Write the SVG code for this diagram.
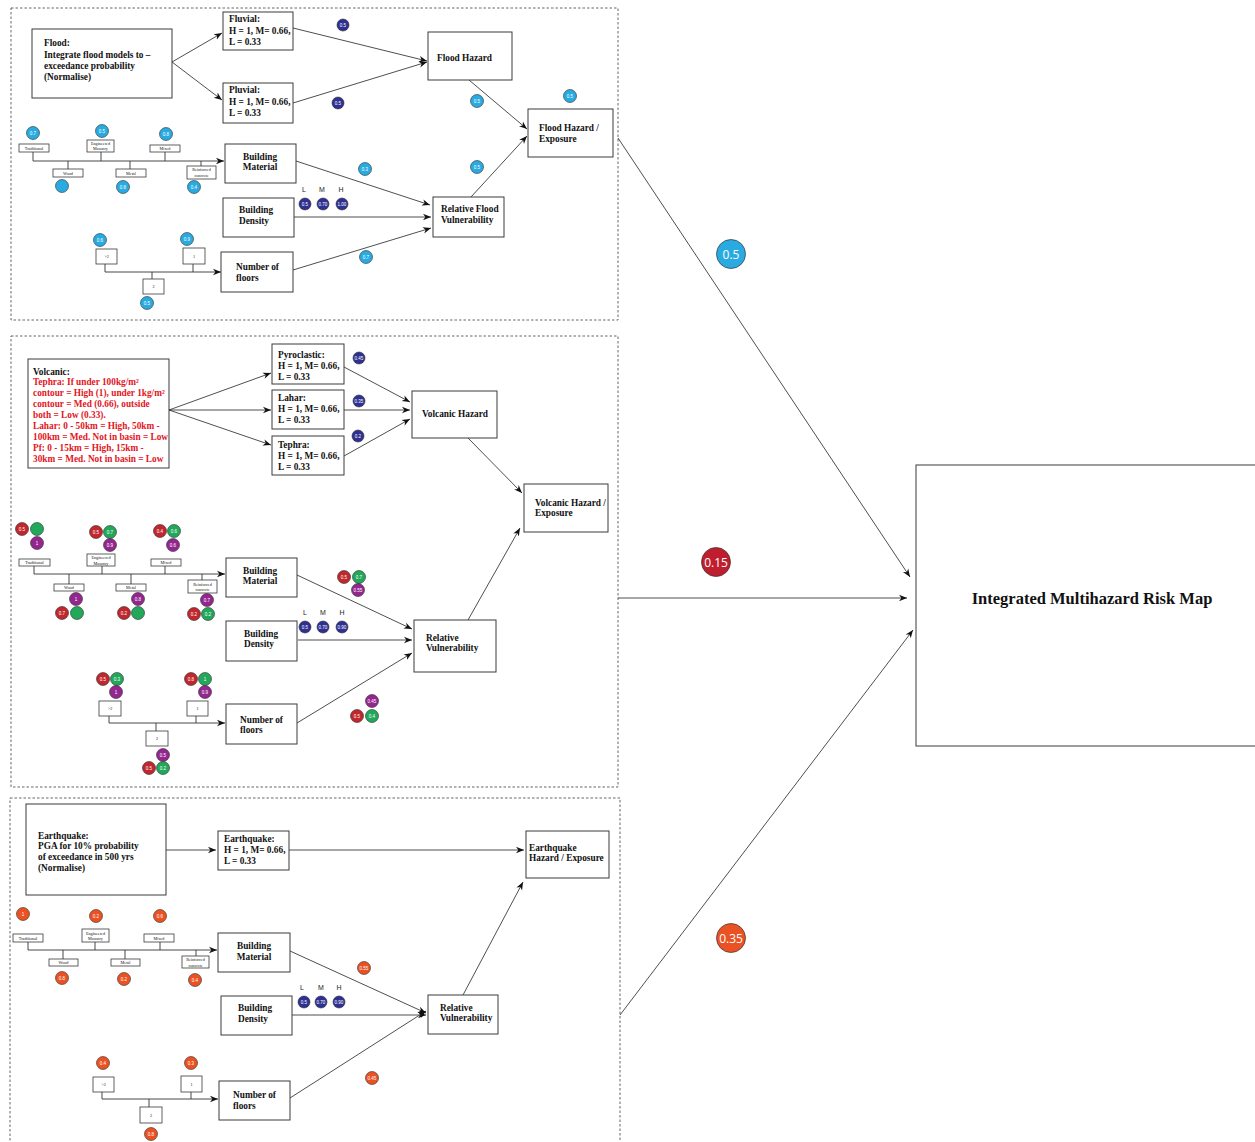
<svg xmlns="http://www.w3.org/2000/svg" width="1255" height="1142" viewBox="0 0 1255 1142">
<defs>
<marker id="ah" viewBox="0 0 10 10" refX="10" refY="5" markerWidth="8" markerHeight="8" markerUnits="userSpaceOnUse" orient="auto"><path d="M0,1 L10,5 L0,9 L3,5 z" fill="#111"/></marker>
</defs>
<style>
.panel{fill:none;stroke:#666;stroke-width:1;stroke-dasharray:2.5,2}
.box{fill:#fff;stroke:#3a3a3a;stroke-width:1}
.sbox{fill:#fff;stroke:#3a3a3a;stroke-width:0.8}
.t{font-family:"Liberation Serif",serif;font-size:9.3px;font-weight:bold;fill:#111}
.tr{fill:#e3151d}
.big{font-family:"Liberation Serif",serif;font-size:16.5px;font-weight:bold;fill:#111;text-anchor:middle}
.ts{font-family:"Liberation Serif",serif;font-size:4.2px;fill:#111;text-anchor:middle}
.ln{fill:none;stroke:#222;stroke-width:0.8;marker-end:url(#ah)}
.tree{fill:none;stroke:#333;stroke-width:0.9}
.d circle{stroke:#2b2b2b;stroke-width:0.6}
.d text{font-family:"Liberation Sans",sans-serif;font-size:4.5px;fill:#fff;text-anchor:middle}
.bd circle{stroke:#333;stroke-width:0.7}
.bd text{font-family:"Open Sans","Liberation Sans",sans-serif;font-size:12px;fill:#fff;text-anchor:middle}
.lb{fill:#29abe2}.db{fill:#2e3192}.rd{fill:#c1272d}.gr{fill:#22a85a}.pu{fill:#93278f}.or{fill:#ea5223}.dr{fill:#be1e2d}
.lmh{font-family:"Liberation Sans",sans-serif;font-size:7px;fill:#222;text-anchor:middle}
</style>
<rect width="1255" height="1142" fill="#fff"/>

<g id="panels">
<rect class="panel" x="11" y="8" width="607" height="312"/>
<rect class="panel" x="11" y="336" width="607" height="451"/>
<rect class="panel" x="10" y="798" width="610" height="360"/>
</g>

<g id="connectors">
<path class="ln" d="M172,62 L222,33"/>
<path class="ln" d="M172,62 L222,100"/>
<path class="ln" d="M293,28 L427,61"/>
<path class="ln" d="M293,103 L427,62"/>
<path class="ln" d="M469,80 L527,129"/>
<path class="ln" d="M471,197 L527,136"/>
<path class="ln" d="M296,161 L430,205"/>
<path class="ln" d="M294,217 L431,217"/>
<path class="ln" d="M293,270 L431,228"/>
<path class="tree" d="M33,152 V161 M101,152 V161 M165,152 V161 M68,161 V169 M130,161 V169 M201,161 V166"/>
<path class="tree" d="M33,161 H224" style="marker-end:url(#ah)"/>
<path class="tree" d="M193,264 V272 M152,272 V279"/>
<path class="tree" d="M105,264 V272 H221" style="marker-end:url(#ah)"/>

<path class="ln" d="M169,410 L271,373"/>
<path class="ln" d="M169,410 L271,410"/>
<path class="ln" d="M169,410 L271,445"/>
<path class="ln" d="M344,367 L410,402"/>
<path class="ln" d="M344,410 L410,410"/>
<path class="ln" d="M344,456 L410,419"/>
<path class="ln" d="M468,438 L522,493"/>
<path class="ln" d="M468,620 L520,528"/>
<path class="ln" d="M297,575 L412,629"/>
<path class="ln" d="M298,640 L412,640"/>
<path class="ln" d="M297,723 L412,653"/>
<path class="tree" d="M102,566 V574 M165,566 V574 M69,574 V584 M131,574 V584 M202,574 V580"/>
<path class="tree" d="M34,566 V574 H225" style="marker-end:url(#ah)"/>
<path class="tree" d="M196,716 V723 M156,723 V731"/>
<path class="tree" d="M109,716 V723 H225" style="marker-end:url(#ah)"/>

<path class="ln" d="M166,850 L216,850"/>
<path class="ln" d="M289,850 L524,850"/>
<path class="ln" d="M290,951 L426,1013"/>
<path class="ln" d="M292,1015 L426,1015"/>
<path class="ln" d="M290,1098 L426,1011"/>
<path class="ln" d="M463,995 L523,882"/>
<path class="tree" d="M95,942 V950 M160,942 V950 M63,950 V959 M125,950 V959 M196,950 V956"/>
<path class="tree" d="M28,942 V950 H217" style="marker-end:url(#ah)"/>
<path class="tree" d="M191,1092 V1099 M149,1099 V1107"/>
<path class="tree" d="M102,1092 V1099 H218" style="marker-end:url(#ah)"/>

<path class="ln" d="M618,138 L910,577"/>
<path class="ln" d="M618,598 L907,598"/>
<path class="ln" d="M620,1015 L913,630"/>
</g>

<!-- FLOOD -->
<g id="flood-src"><rect class="box" x="32" y="29" width="140" height="69"/>
<text class="t" x="44" y="46">Flood:</text><text class="t" x="44" y="58">Integrate flood models to –</text><text class="t" x="44" y="69">exceedance probability</text><text class="t" x="44" y="80">(Normalise)</text></g>
<g id="fluvial"><rect class="box" x="223" y="12" width="70" height="38"/>
<text class="t" x="229" y="22">Fluvial:</text><text class="t" x="229" y="33.5">H = 1, M= 0.66,</text><text class="t" x="229" y="45">L = 0.33</text></g>
<g id="pluvial"><rect class="box" x="223" y="83" width="70" height="40"/>
<text class="t" x="229" y="93">Pluvial:</text><text class="t" x="229" y="104.5">H = 1, M= 0.66,</text><text class="t" x="229" y="116">L = 0.33</text></g>
<g id="flood-hazard"><rect class="box" x="428" y="32" width="84" height="48"/><text class="t" x="437" y="61">Flood Hazard</text></g>
<g id="flood-exposure"><rect class="box" x="528" y="109" width="85" height="48"/><text class="t" x="539" y="131">Flood Hazard /</text><text class="t" x="539" y="142">Exposure</text></g>
<g id="flood-vuln"><rect class="box" x="433" y="197" width="71" height="40"/><text class="t" x="441" y="212">Relative Flood</text><text class="t" x="441" y="223">Vulnerability</text></g>
<g id="flood-bm"><rect class="box" x="225" y="144" width="71" height="39"/><text class="t" x="260" y="160" text-anchor="middle">Building</text><text class="t" x="260" y="170" text-anchor="middle">Material</text></g>
<g id="flood-bd"><rect class="box" x="223" y="198" width="71" height="39"/><text class="t" x="239" y="213">Building</text><text class="t" x="239" y="224">Density</text></g>
<g id="flood-nf"><rect class="box" x="221" y="252" width="72" height="40"/><text class="t" x="236" y="270">Number of</text><text class="t" x="236" y="281">floors</text></g>
<g id="flood-tree">
<rect class="sbox" x="19" y="144" width="30" height="8"/><text class="ts" x="34" y="149.5">Traditional</text>
<rect class="sbox" x="87" y="140" width="27" height="12"/><text class="ts" x="100.5" y="145">Engineered</text><text class="ts" x="100.5" y="150">Masonry</text>
<rect class="sbox" x="150" y="145" width="30" height="7"/><text class="ts" x="165" y="150">Mixed</text>
<rect class="sbox" x="53" y="169" width="30" height="8"/><text class="ts" x="68" y="174.5">Wood</text>
<rect class="sbox" x="116" y="169" width="30" height="8"/><text class="ts" x="131" y="174.5">Metal</text>
<rect class="sbox" x="187" y="166" width="29" height="13"/><text class="ts" x="201.5" y="171">Reinforced</text><text class="ts" x="201.5" y="176.5">concrete</text>
<rect class="sbox" x="96" y="249" width="21" height="15"/><text class="ts" x="106.5" y="258">&gt;2</text>
<rect class="sbox" x="183" y="248" width="22" height="16"/><text class="ts" x="194" y="257.5">1</text>
<rect class="sbox" x="143" y="279" width="21" height="15"/><text class="ts" x="153.5" y="288">2</text>
</g>
<g id="flood-weights" class="d">
<circle class="db" cx="343" cy="25" r="6"/><text x="343" y="26.6">0.5</text>
<circle class="db" cx="338" cy="103" r="6"/><text x="338" y="104.6">0.5</text>
<circle class="lb" cx="570" cy="96" r="6.5"/><text x="570" y="97.6">0.5</text>
<circle class="lb" cx="477" cy="101" r="6.5"/><text x="477" y="102.6">0.5</text>
<circle class="lb" cx="477" cy="167" r="6.5"/><text x="477" y="168.6">0.5</text>
<circle class="lb" cx="365" cy="169" r="6.5"/><text x="365" y="170.6">0.3</text>
<circle class="lb" cx="366" cy="257" r="6.5"/><text x="366" y="258.6">0.7</text>
<circle class="db" cx="305" cy="204" r="6"/><text x="305" y="205.6">0.5</text>
<circle class="db" cx="323" cy="204" r="6"/><text x="323" y="205.6">0.70</text>
<circle class="db" cx="342" cy="204" r="6"/><text x="342" y="205.6">1.00</text>
<circle class="lb" cx="33" cy="133" r="6.5"/><text x="33" y="134.6">0.7</text>
<circle class="lb" cx="102" cy="131" r="6.5"/><text x="102" y="132.6">0.5</text>
<circle class="lb" cx="166" cy="134" r="6.5"/><text x="166" y="135.6">0.8</text>
<circle class="lb" cx="62" cy="186" r="6.5"/>
<circle class="lb" cx="123" cy="187" r="6.5"/><text x="123" y="188.6">0.8</text>
<circle class="lb" cx="194" cy="187" r="6.5"/><text x="194" y="188.6">0.4</text>
<circle class="lb" cx="100" cy="240" r="6.5"/><text x="100" y="241.6">0.6</text>
<circle class="lb" cx="187" cy="239" r="6.5"/><text x="187" y="240.6">0.9</text>
<circle class="lb" cx="147" cy="303" r="6.5"/><text x="147" y="304.6">0.5</text>
</g>
<g id="flood-lmh"><text class="lmh" x="304" y="192">L</text><text class="lmh" x="322" y="192">M</text><text class="lmh" x="341" y="192">H</text></g>

<!-- VOLCANIC -->
<g id="volc-src"><rect class="box" x="28" y="359" width="141" height="109"/>
<text class="t" x="33" y="375">Volcanic:</text>
<text class="t tr" x="33" y="385">Tephra: If under 100kg/m²</text>
<text class="t tr" x="33" y="396">contour = High (1), under 1kg/m²</text>
<text class="t tr" x="33" y="407">contour = Med (0.66), outside</text>
<text class="t tr" x="33" y="418">both = Low (0.33).</text>
<text class="t tr" x="33" y="429">Lahar:  0 - 50km = High, 50km -</text>
<text class="t tr" x="33" y="440">100km = Med. Not in basin = Low</text>
<text class="t tr" x="33" y="451">Pf: 0 - 15km = High, 15km -</text>
<text class="t tr" x="33" y="462">30km = Med. Not in basin = Low</text></g>
<g id="pyroclastic"><rect class="box" x="272" y="344" width="72" height="40"/><text class="t" x="278" y="358">Pyroclastic:</text><text class="t" x="278" y="369">H = 1, M= 0.66,</text><text class="t" x="278" y="380">L = 0.33</text></g>
<g id="lahar"><rect class="box" x="272" y="390" width="72" height="39"/><text class="t" x="278" y="401">Lahar:</text><text class="t" x="278" y="412">H = 1, M= 0.66,</text><text class="t" x="278" y="423">L = 0.33</text></g>
<g id="tephra"><rect class="box" x="272" y="436" width="72" height="39"/><text class="t" x="278" y="448">Tephra:</text><text class="t" x="278" y="459">H = 1, M= 0.66,</text><text class="t" x="278" y="470">L = 0.33</text></g>
<g id="volc-hazard"><rect class="box" x="412" y="391" width="85" height="47"/><text class="t" x="422" y="417">Volcanic Hazard</text></g>
<g id="volc-exposure"><rect class="box" x="524" y="484" width="84" height="48"/><text class="t" x="535" y="506">Volcanic Hazard /</text><text class="t" x="535" y="516">Exposure</text></g>
<g id="volc-vuln"><rect class="box" x="414" y="620" width="82" height="52"/><text class="t" x="426" y="641">Relative</text><text class="t" x="426" y="651">Vulnerability</text></g>
<g id="volc-bm"><rect class="box" x="226" y="558" width="71" height="39"/><text class="t" x="260" y="574" text-anchor="middle">Building</text><text class="t" x="260" y="584" text-anchor="middle">Material</text></g>
<g id="volc-bd"><rect class="box" x="226" y="621" width="71" height="40"/><text class="t" x="244" y="637">Building</text><text class="t" x="244" y="647">Density</text></g>
<g id="volc-nf"><rect class="box" x="226" y="704" width="71" height="40"/><text class="t" x="240" y="723">Number of</text><text class="t" x="240" y="733">floors</text></g>
<g id="volc-tree">
<rect class="sbox" x="19" y="559" width="31" height="7"/><text class="ts" x="34.5" y="564">Traditional</text>
<rect class="sbox" x="87" y="554" width="28" height="12"/><text class="ts" x="101" y="559">Engineered</text><text class="ts" x="101" y="564.5">Masonry</text>
<rect class="sbox" x="151" y="559" width="30" height="7"/><text class="ts" x="166" y="564">Mixed</text>
<rect class="sbox" x="54" y="584" width="30" height="7"/><text class="ts" x="69" y="589">Wood</text>
<rect class="sbox" x="116" y="584" width="30" height="7"/><text class="ts" x="131" y="589">Metal</text>
<rect class="sbox" x="188" y="580" width="29" height="13"/><text class="ts" x="202.5" y="585.5">Reinforced</text><text class="ts" x="202.5" y="591">concrete</text>
<rect class="sbox" x="99" y="701" width="22" height="15"/><text class="ts" x="110" y="710">&gt;2</text>
<rect class="sbox" x="187" y="701" width="21" height="15"/><text class="ts" x="197.5" y="710">1</text>
<rect class="sbox" x="146" y="731" width="22" height="15"/><text class="ts" x="157" y="740">2</text>
</g>
<g id="volc-weights" class="d">
<circle class="db" cx="359" cy="358" r="6"/><text x="359" y="359.6">0.45</text>
<circle class="db" cx="359" cy="401" r="6"/><text x="359" y="402.6">0.35</text>
<circle class="db" cx="358" cy="436" r="6"/><text x="358" y="437.6">0.2</text>
<circle class="rd" cx="344" cy="577" r="6.5"/><text x="344" y="578.6">0.5</text>
<circle class="gr" cx="359" cy="577" r="6.5"/><text x="359" y="578.6">0.7</text>
<circle class="pu" cx="358" cy="590" r="6.5"/><text x="358" y="591.6">0.55</text>
<circle class="db" cx="305" cy="627" r="6"/><text x="305" y="628.6">0.5</text>
<circle class="db" cx="323" cy="627" r="6"/><text x="323" y="628.6">0.70</text>
<circle class="db" cx="342" cy="627" r="6"/><text x="342" y="628.6">0.90</text>
<circle class="pu" cx="372" cy="701" r="6.5"/><text x="372" y="702.6">0.45</text>
<circle class="rd" cx="357" cy="716" r="6.5"/><text x="357" y="717.6">0.5</text>
<circle class="gr" cx="372" cy="716" r="6.5"/><text x="372" y="717.6">0.4</text>
<circle class="rd" cx="22" cy="529" r="6.5"/><text x="22" y="530.6">0.5</text>
<circle class="gr" cx="37" cy="529" r="6.5"/>
<circle class="pu" cx="37" cy="543" r="6.5"/><text x="37" y="544.6">1</text>
<circle class="rd" cx="96" cy="532" r="6.5"/><text x="96" y="533.6">0.5</text>
<circle class="gr" cx="110" cy="532" r="6.5"/><text x="110" y="533.6">0.7</text>
<circle class="pu" cx="110" cy="545" r="6.5"/><text x="110" y="546.6">0.9</text>
<circle class="rd" cx="160" cy="531" r="6.5"/><text x="160" y="532.6">0.4</text>
<circle class="gr" cx="174" cy="531" r="6.5"/><text x="174" y="532.6">0.6</text>
<circle class="pu" cx="173" cy="545" r="6.5"/><text x="173" y="546.6">0.6</text>
<circle class="pu" cx="76" cy="599" r="6.5"/><text x="76" y="600.6">1</text>
<circle class="rd" cx="62" cy="613" r="6.5"/><text x="62" y="614.6">0.7</text>
<circle class="gr" cx="77" cy="613" r="6.5"/>
<circle class="pu" cx="138" cy="599" r="6.5"/><text x="138" y="600.6">0.8</text>
<circle class="rd" cx="124" cy="613" r="6.5"/><text x="124" y="614.6">0.2</text>
<circle class="gr" cx="138" cy="613" r="6.5"/>
<circle class="pu" cx="207" cy="600" r="6.5"/><text x="207" y="601.6">0.7</text>
<circle class="rd" cx="194" cy="614" r="6.5"/><text x="194" y="615.6">0.2</text>
<circle class="gr" cx="208" cy="614" r="6.5"/><text x="208" y="615.6">0.2</text>
<circle class="rd" cx="103" cy="679" r="6.5"/><text x="103" y="680.6">0.5</text>
<circle class="gr" cx="117" cy="679" r="6.5"/><text x="117" y="680.6">0.3</text>
<circle class="pu" cx="116" cy="692" r="6.5"/><text x="116" y="693.6">1</text>
<circle class="rd" cx="191" cy="679" r="6.5"/><text x="191" y="680.6">0.8</text>
<circle class="gr" cx="205" cy="679" r="6.5"/><text x="205" y="680.6">1</text>
<circle class="pu" cx="205" cy="692" r="6.5"/><text x="205" y="693.6">0.9</text>
<circle class="pu" cx="163" cy="755" r="6.5"/><text x="163" y="756.6">0.5</text>
<circle class="rd" cx="149" cy="768" r="6.5"/><text x="149" y="769.6">0.5</text>
<circle class="gr" cx="163" cy="768" r="6.5"/><text x="163" y="769.6">0.2</text>
</g>
<g id="volc-lmh"><text class="lmh" x="305" y="615">L</text><text class="lmh" x="323" y="615">M</text><text class="lmh" x="342" y="615">H</text></g>

<!-- EARTHQUAKE -->
<g id="eq-src"><rect class="box" x="26" y="804" width="140" height="91"/>
<text class="t" x="38" y="839">Earthquake:</text><text class="t" x="38" y="849">PGA for 10% probability</text><text class="t" x="38" y="860">of exceedance in 500 yrs</text><text class="t" x="38" y="871">(Normalise)</text></g>
<g id="eq-hml"><rect class="box" x="218" y="831" width="71" height="39"/><text class="t" x="224" y="842">Earthquake:</text><text class="t" x="224" y="853">H = 1, M= 0.66,</text><text class="t" x="224" y="864">L = 0.33</text></g>
<g id="eq-exposure"><rect class="box" x="526" y="831" width="83" height="47"/><text class="t" x="529" y="851">Earthquake</text><text class="t" x="529" y="861">Hazard / Exposure</text></g>
<g id="eq-vuln"><rect class="box" x="428" y="995" width="70" height="39"/><text class="t" x="440" y="1011">Relative</text><text class="t" x="440" y="1021">Vulnerability</text></g>
<g id="eq-bm"><rect class="box" x="218" y="933" width="72" height="39"/><text class="t" x="254" y="949" text-anchor="middle">Building</text><text class="t" x="254" y="960" text-anchor="middle">Material</text></g>
<g id="eq-bd"><rect class="box" x="221" y="996" width="71" height="39"/><text class="t" x="238" y="1011">Building</text><text class="t" x="238" y="1022">Density</text></g>
<g id="eq-nf"><rect class="box" x="219" y="1081" width="71" height="39"/><text class="t" x="233" y="1098">Number of</text><text class="t" x="233" y="1109">floors</text></g>
<g id="eq-tree">
<rect class="sbox" x="13" y="934" width="30" height="8"/><text class="ts" x="28" y="939.5">Traditional</text>
<rect class="sbox" x="82" y="929" width="27" height="13"/><text class="ts" x="95.5" y="934.5">Engineered</text><text class="ts" x="95.5" y="940">Masonry</text>
<rect class="sbox" x="144" y="934" width="30" height="8"/><text class="ts" x="159" y="939.5">Mixed</text>
<rect class="sbox" x="49" y="959" width="29" height="7"/><text class="ts" x="63.5" y="964">Wood</text>
<rect class="sbox" x="111" y="959" width="29" height="7"/><text class="ts" x="125.5" y="964">Metal</text>
<rect class="sbox" x="182" y="956" width="27" height="12"/><text class="ts" x="195.5" y="961">Reinforced</text><text class="ts" x="195.5" y="966.5">concrete</text>
<rect class="sbox" x="93" y="1077" width="21" height="15"/><text class="ts" x="103.5" y="1086">&gt;2</text>
<rect class="sbox" x="181" y="1076" width="21" height="16"/><text class="ts" x="191.5" y="1085.5">1</text>
<rect class="sbox" x="140" y="1107" width="22" height="16"/><text class="ts" x="151" y="1116.5">2</text>
</g>
<g id="eq-weights" class="d">
<circle class="or" cx="364" cy="968" r="6.5"/><text x="364" y="969.6">0.55</text>
<circle class="or" cx="372" cy="1078" r="6.5"/><text x="372" y="1079.6">0.45</text>
<circle class="db" cx="304" cy="1002" r="6"/><text x="304" y="1003.6">0.5</text>
<circle class="db" cx="321" cy="1002" r="6"/><text x="321" y="1003.6">0.70</text>
<circle class="db" cx="339" cy="1002" r="6"/><text x="339" y="1003.6">0.90</text>
<circle class="or" cx="23" cy="914" r="6.5"/><text x="23" y="915.6">1</text>
<circle class="or" cx="96" cy="916" r="6.5"/><text x="96" y="917.6">0.2</text>
<circle class="or" cx="160" cy="916" r="6.5"/><text x="160" y="917.6">0.6</text>
<circle class="or" cx="62" cy="978" r="6.5"/><text x="62" y="979.6">0.8</text>
<circle class="or" cx="124" cy="979" r="6.5"/><text x="124" y="980.6">0.2</text>
<circle class="or" cx="195" cy="980" r="6.5"/><text x="195" y="981.6">0.4</text>
<circle class="or" cx="103" cy="1063" r="6.5"/><text x="103" y="1064.6">0.4</text>
<circle class="or" cx="191" cy="1063" r="6.5"/><text x="191" y="1064.6">0.3</text>
<circle class="or" cx="151" cy="1134" r="6.5"/><text x="151" y="1135.6">0.8</text>
</g>
<g id="eq-lmh"><text class="lmh" x="302" y="990">L</text><text class="lmh" x="321" y="990">M</text><text class="lmh" x="339" y="990">H</text></g>

<!-- FINAL -->
<g id="risk-map"><rect class="box" x="916" y="465" width="345" height="281"/><text class="big" x="1092" y="604">Integrated Multihazard Risk Map</text></g>
<g id="final-weights" class="bd">
<circle class="lb" cx="731" cy="254" r="14.5"/><text x="731" y="258.5">0.5</text>
<circle class="dr" cx="716" cy="562" r="14.5"/><text x="716" y="566.5">0.15</text>
<circle class="or" cx="731" cy="938" r="14.5"/><text x="731" y="942.5">0.35</text>
</g>
</svg>
